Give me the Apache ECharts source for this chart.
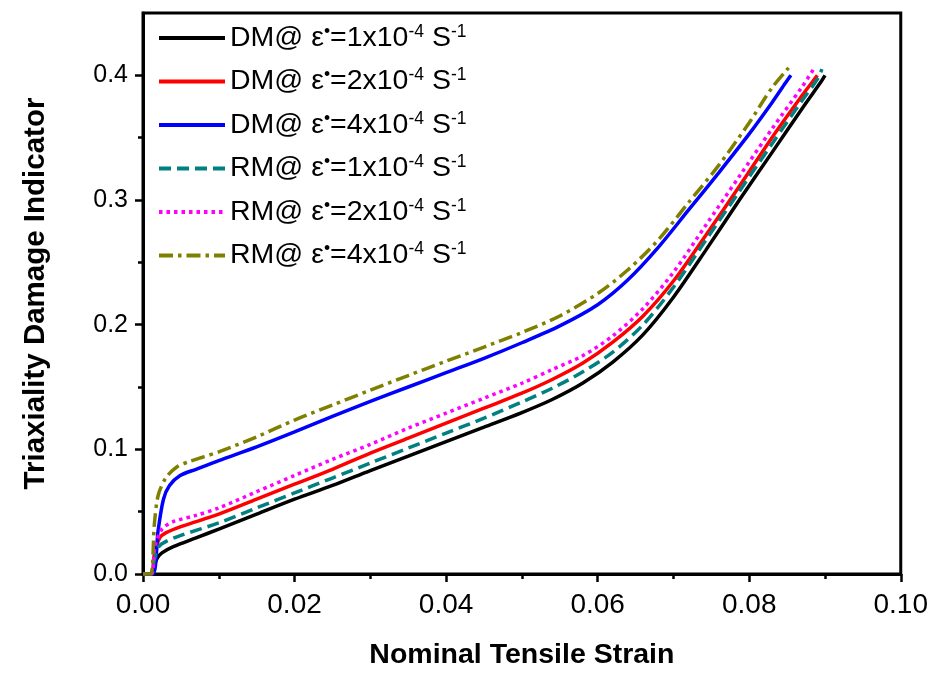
<!DOCTYPE html>
<html>
<head>
<meta charset="utf-8">
<script src="https://cdn.jsdelivr.net/npm/echarts@6/dist/echarts.min.js"></script>
<style>html,body{margin:0;padding:0;background:#fff}#c{width:931px;height:675px}</style>
</head>
<body>
<div id="c"></div>
<script>
// ---- data ----
const seriesNames = [
  'DM@ ε•=1x10-4 S-1', 'DM@ ε•=2x10-4 S-1', 'DM@ ε•=4x10-4 S-1',
  'RM@ ε•=1x10-4 S-1', 'RM@ ε•=2x10-4 S-1', 'RM@ ε•=4x10-4 S-1'
];
const models = ['DM', 'DM', 'DM', 'RM', 'RM', 'RM'];
const rates = ['1', '2', '4', '1', '2', '4'];

const xTicks = [0, 0.02, 0.04, 0.06, 0.08, 0.10];
const yTicks = [0, 0.1, 0.2, 0.3, 0.4];
const yMinorTicks = [0.05, 0.15, 0.25, 0.35];

const dm1X = [0, 0.0011, 0.0015, 0.0019, 0.0025, 0.004, 0.007, 0.010, 0.015, 0.020, 0.025, 0.030, 0.035, 0.040, 0.045, 0.050, 0.054, 0.058, 0.062, 0.066, 0.070, 0.0743, 0.0787, 0.083, 0.0874, 0.0895, 0.0900];
const dm1Y = [0, 0, 0.007, 0.013, 0.017, 0.022, 0.029, 0.036, 0.048, 0.060, 0.071, 0.083, 0.0945, 0.1062, 0.1178, 0.1295, 0.140, 0.153, 0.170, 0.192, 0.222, 0.260, 0.300, 0.338, 0.377, 0.395, 0.400];

const dm2X = [0, 0.0011, 0.0015, 0.0022, 0.003, 0.005, 0.010, 0.015, 0.020, 0.025, 0.030, 0.035, 0.040, 0.045, 0.050, 0.054, 0.058, 0.062, 0.066, 0.070, 0.0743, 0.0787, 0.083, 0.0870, 0.0885, 0.0890];
const dm2Y = [0, 0, 0.016, 0.029, 0.033, 0.038, 0.048, 0.060, 0.072, 0.084, 0.097, 0.109, 0.121, 0.133, 0.145, 0.156, 0.169, 0.186, 0.207, 0.235, 0.272, 0.311, 0.350, 0.384, 0.396, 0.400];

const dm4X = [0, 0.0013, 0.002, 0.0027, 0.0035, 0.0049, 0.007, 0.010, 0.015, 0.020, 0.025, 0.030, 0.035, 0.040, 0.045, 0.050, 0.055, 0.060, 0.064, 0.068, 0.072, 0.076, 0.080, 0.083, 0.0848, 0.0855];
const dm4Y = [0, 0, 0.035, 0.060, 0.071, 0.079, 0.084, 0.091, 0.102, 0.114, 0.1265, 0.1385, 0.150, 0.1615, 0.173, 0.1855, 0.199, 0.216, 0.236, 0.262, 0.292, 0.322, 0.353, 0.378, 0.394, 0.400];

const rm1X = [0, 0.0011, 0.0015, 0.0021, 0.003, 0.005, 0.010, 0.015, 0.020, 0.025, 0.030, 0.035, 0.040, 0.045, 0.050, 0.054, 0.058, 0.062, 0.066, 0.070, 0.0743, 0.0787, 0.083, 0.087, 0.0890, 0.0896];
const rm1Y = [0, 0, 0.012, 0.022, 0.026, 0.031, 0.041, 0.053, 0.065, 0.077, 0.089, 0.101, 0.113, 0.125, 0.138, 0.149, 0.162, 0.178, 0.200, 0.230, 0.268, 0.307, 0.345, 0.380, 0.397, 0.405];

const rm2X = [0, 0.0011, 0.0016, 0.0025, 0.004, 0.007, 0.010, 0.015, 0.020, 0.025, 0.030, 0.035, 0.040, 0.045, 0.050, 0.054, 0.058, 0.062, 0.066, 0.070, 0.0743, 0.0787, 0.083, 0.087, 0.0885];
const rm2Y = [0, 0, 0.022, 0.036, 0.042, 0.047, 0.053, 0.066, 0.079, 0.092, 0.104, 0.117, 0.129, 0.141, 0.153, 0.164, 0.175, 0.191, 0.213, 0.242, 0.280, 0.319, 0.357, 0.391, 0.405];

const rm4X = [0, 0.001, 0.0015, 0.002, 0.003, 0.0045, 0.006, 0.008, 0.010, 0.015, 0.020, 0.025, 0.030, 0.035, 0.040, 0.045, 0.050, 0.055, 0.060, 0.064, 0.068, 0.072, 0.076, 0.080, 0.083, 0.0852];
const rm4Y = [0, 0, 0.040, 0.063, 0.077, 0.086, 0.090, 0.094, 0.098, 0.110, 0.1235, 0.1355, 0.1475, 0.1592, 0.1707, 0.182, 0.1937, 0.207, 0.225, 0.244, 0.268, 0.298, 0.328, 0.362, 0.390, 0.406];

const colors = ['#000000', '#ff0000', '#0000ff', '#008080', '#ff00ff', '#808000'];
const dashes = ['solid', 'solid', 'solid', [12, 6], [3.5, 4], [14, 5, 3.5, 5]];
const xs = [dm1X, dm2X, dm4X, rm1X, rm2X, rm4X];
const ys = [dm1Y, dm2Y, dm4Y, rm1Y, rm2Y, rm4Y];

function zip(a, b) { return a.map((v, i) => [v, b[i]]); }

const chart = echarts.init(document.getElementById('c'), null, { renderer: 'canvas' });
const FONT = 'Liberation Sans, Arial, sans-serif';

const option = {
  backgroundColor: '#ffffff',
  animation: false,
  grid: { left: 143, right: 29, top: 13, bottom: 100, show: true, borderColor: '#000', borderWidth: 3, backgroundColor: 'transparent' },
  legend: {
    orient: 'vertical', left: 157, top: 23, padding: 0,
    itemWidth: 66, itemHeight: 14, itemGap: 14,
    data: seriesNames,
    itemStyle: { opacity: 0 },
    lineStyle: { width: 4 },
    formatter: function (name) {
      const i = seriesNames.indexOf(name);
      return '{n|' + models[i] + '@ ε}{s|•}{n|=' + rates[i] + 'x10}{s|-4}{n| S}{s|-1}';
    },
    textStyle: {
      rich: {
        n: { fontSize: 28.5, fontFamily: FONT, color: '#000', lineHeight: 30 },
        s: { fontSize: 17.5, fontFamily: FONT, color: '#000', lineHeight: 14, verticalAlign: 'top' }
      }
    }
  },
  xAxis: {
    type: 'value', min: 0, max: 0.1, interval: 0.02,
    name: 'Nominal Tensile Strain', nameLocation: 'middle', nameGap: 67,
    nameTextStyle: { fontSize: 28.5, fontWeight: 'bold', fontFamily: FONT, color: '#000' },
    axisLine: { show: true, lineStyle: { color: '#000', width: 3 } },
    axisTick: { show: true, length: 8, lineStyle: { color: '#000', width: 2.5 } },
    minorTick: { show: true, splitNumber: 2, length: 5, lineStyle: { color: '#000', width: 2.5 } },
    axisLabel: { fontSize: 28, fontFamily: FONT, color: '#000', margin: 17,
      formatter: function (v) { return v.toFixed(2); } },
    splitLine: { show: false }
  },
  yAxis: [
    {
      type: 'value', min: 0, max: 0.45, interval: 0.1,
      name: 'Triaxiality Damage Indicator', nameLocation: 'middle', nameGap: 92,
      nameTextStyle: { fontSize: 29.5, fontWeight: 'bold', fontFamily: FONT, color: '#000' },
      axisLine: { show: true, lineStyle: { color: '#000', width: 3 } },
      axisTick: { show: true, length: 8, customValues: yTicks, lineStyle: { color: '#000', width: 2.5 } },
      axisLabel: { fontSize: 25, fontFamily: FONT, color: '#000', margin: 15, customValues: yTicks,
        formatter: function (v) { return v.toFixed(1); } },
      splitLine: { show: false }
    },
    {
      type: 'value', min: 0, max: 0.45, interval: 0.05, position: 'left',
      axisLine: { show: false },
      axisTick: { show: true, length: 5, customValues: yMinorTicks, lineStyle: { color: '#000', width: 2.5 } },
      axisLabel: { show: false },
      splitLine: { show: false }
    }
  ],
  series: seriesNames.map((name, i) => ({
    name: name, type: 'line', yAxisIndex: 0,
    data: zip(xs[i], ys[i]),
    showSymbol: false, symbol: 'none',
    smooth: 0.3,
    lineStyle: { color: colors[i], width: 3.5, type: dashes[i] },
    itemStyle: { color: colors[i] }
  }))
};
chart.setOption(option);
</script>
</body>
</html>
